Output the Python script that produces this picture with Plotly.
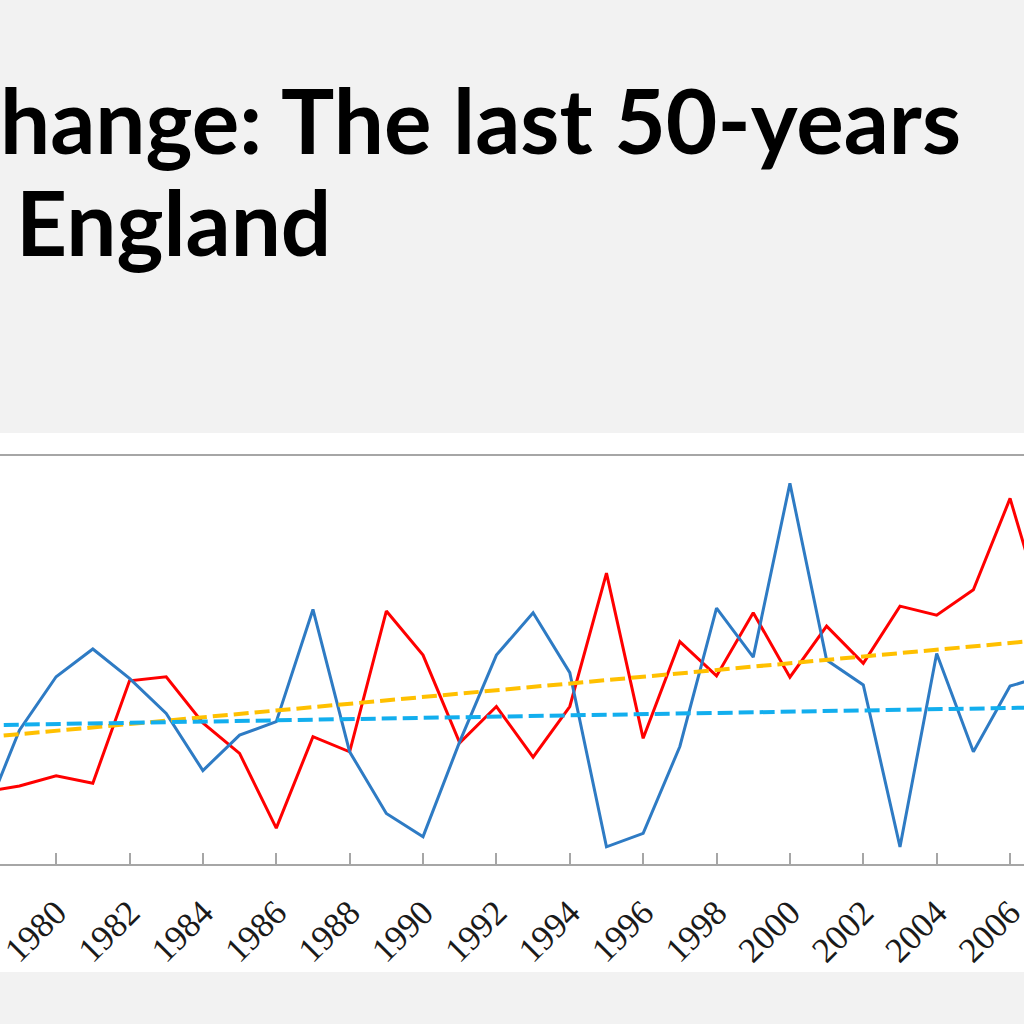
import plotly.graph_objects as go

# ---- data (y in relative units, 0 = axis line, 100 = top border) ----
years = list(range(1978, 2008))
temperature = [17.6, 19.1, 21.6, 19.8, 44.9, 45.9, 34.6, 27.1, 8.8, 31.2,
               27.5, 62.0, 51.2, 29.7, 38.6, 26.2, 38.6, 71.3, 30.8, 54.5,
               46.1, 61.6, 45.8, 58.3, 49.2, 63.2, 61.0, 67.2, 89.6, 59.3]
rainfall = [10.5, 32.8, 45.9, 52.7, 45.5, 36.9, 22.9, 31.6, 34.9, 62.4,
            27.5, 12.4, 6.7, 30.0, 51.2, 61.6, 46.9, 4.2, 7.5, 28.8,
            62.7, 50.7, 93.3, 50.0, 43.9, 4.2, 51.6, 27.5, 43.6, 46.3]
trend_years = [1978, 2007]
trend_temperature = [31.0, 55.0]
trend_rainfall = [34.0, 38.4]
tick_years = list(range(1980, 2008, 2))
tick_labels = [str(y) for y in tick_years]
title_line1 = "hange: The last 50-years"
title_line2 = "England"

fig = go.Figure()
fig.add_trace(go.Scatter(x=years, y=temperature, mode="lines", name="Temperature",
                         line=dict(color="#FF0000", width=3)))
fig.add_trace(go.Scatter(x=years, y=rainfall, mode="lines", name="Rainfall",
                         line=dict(color="#2E7BC4", width=3)))
fig.add_trace(go.Scatter(x=trend_years, y=trend_temperature, mode="lines", name="Temperature trend",
                         line=dict(color="#FFC000", width=4, dash="15px,6px")))
fig.add_trace(go.Scatter(x=trend_years, y=trend_rainfall, mode="lines", name="Rainfall trend",
                         line=dict(color="#12AEEE", width=4, dash="15px,6px")))

# white chart panel behind plot
fig.add_shape(type="rect", xref="paper", yref="paper", x0=-0.02, x1=1.02,
              y0=-0.2647, y1=1.0564, fillcolor="white", line=dict(width=0), layer="below")

fig.add_annotation(text=title_line1, xref="paper", yref="paper", x=-0.002, y=1.824,
                   xanchor="left", yanchor="middle", showarrow=False,
                   font=dict(family="Lato", size=89, color="#000000", weight="bold"))
fig.add_annotation(text=title_line2, xref="paper", yref="paper", x=0.014, y=1.574,
                   xanchor="left", yanchor="middle", showarrow=False,
                   font=dict(family="Lato", size=89, color="#000000", weight="bold"))

fig.update_layout(
    width=1024, height=1024, autosize=False,
    margin=dict(l=0, r=0, t=456, b=160, pad=0, autoexpand=False),
    paper_bgcolor="#F2F2F2", plot_bgcolor="white",
    showlegend=False,
    xaxis=dict(range=[1978.47, 2006.38], tickvals=tick_years, ticktext=tick_labels,
               tickangle=-45, ticks="inside", ticklen=11, tickwidth=2, tickcolor="#A6A6A6",
               showline=True, linecolor="#A6A6A6", linewidth=2, mirror=True,
               showgrid=False, zeroline=False, ticklabelstandoff=12,
               ticklabeloverflow="allow", automargin=False,
               tickfont=dict(family="Liberation Serif", size=35, color="#1A1A1A")),
    yaxis=dict(range=[0, 100], visible=False, showgrid=False, zeroline=False, automargin=False),
)

fig.write_html("out.html", config={"displayModeBar": False},
               post_script="document.body.style.margin='0px';document.body.style.overflow='hidden';")
